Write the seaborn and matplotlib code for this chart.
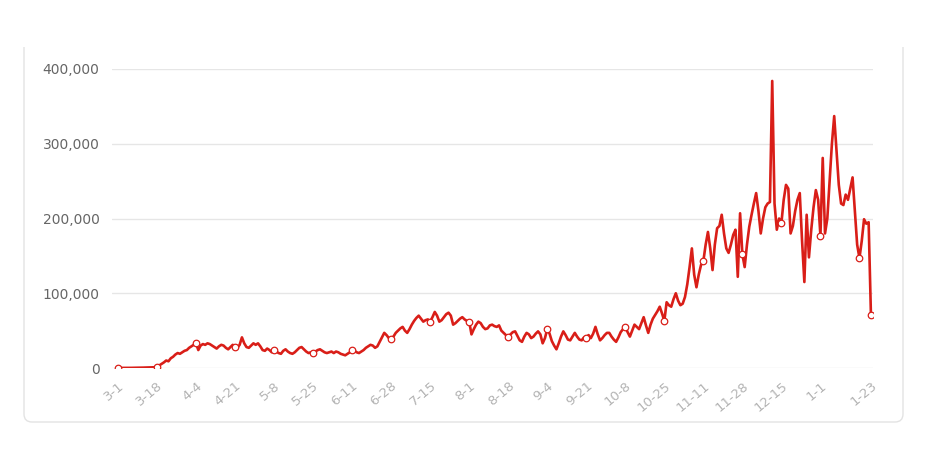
import numpy as np
import pandas as pd
import matplotlib
matplotlib.use("Agg")
import matplotlib.pyplot as plt
from matplotlib.path import Path
from matplotlib.patches import PathPatch
import seaborn as sns

# === Daily values (thousands) ===
march = [0.1, 0.1, 0.1, 0.1, 0.2, 0.2, 0.2, 0.3, 0.3, 0.4, 0.4, 0.5, 0.6, 0.7, 0.8, 0.9,
         1.0, 1.5, 3.5, 5.5, 7.5, 10, 9, 13, 15, 18, 20, 19, 21, 23, 24]
april = [27, 29, 31, 33, 24, 30, 32, 31, 33, 32, 30, 28, 26, 29, 31, 30, 27, 25, 28, 31,
         28, 27, 31, 41, 33, 28, 27, 30, 33, 31]
may = [33, 29, 24, 23, 26, 24, 21, 24, 22, 20, 19, 23, 25, 22, 20, 19, 21, 24, 27, 28,
       25, 22, 20, 21, 20, 22, 24, 25, 23, 21, 20]
june = [21, 22, 20, 22, 21, 19, 18, 17, 19, 21, 24, 23, 21, 20, 22, 24, 27, 29, 31, 30,
        27, 29, 35, 41, 47, 44, 40, 39, 42, 47]
july = [50, 53, 55, 50, 47, 52, 58, 63, 67, 70, 66, 62, 64, 65, 62, 68, 75, 70, 62, 64,
        68, 72, 74, 70, 58, 60, 63, 66, 68, 65, 63]
august = [62, 45, 52, 58, 62, 60, 55, 52, 53, 57, 58, 56, 55, 57, 50, 47, 44, 42, 45, 48,
          49, 43, 37, 35, 42, 47, 45, 40, 42, 46, 49]
september = [45, 33, 40, 52, 46, 36, 30, 25, 33, 42, 49, 44, 38, 37, 42, 47, 42, 38, 37, 41,
             40, 44, 40, 46, 55, 45, 37, 40, 44, 47]
october = [47, 42, 38, 35, 41, 48, 52, 55, 48, 42, 50, 58, 55, 52, 60, 68, 57, 47, 58, 66,
           71, 76, 82, 73, 63, 88, 84, 82, 92, 100, 90]
november = [84, 86, 95, 112, 135, 160, 125, 108, 125, 138, 143, 165, 182, 160, 131, 165,
            187, 190, 205, 180, 160, 154, 165, 178, 185, 122, 207, 152, 135, 165]
december = [189, 205, 220, 234, 210, 180, 200, 215, 220, 222, 384, 220, 185, 200, 194, 225,
            245, 240, 180, 190, 210, 225, 234, 170, 115, 205, 148, 185, 215, 238, 225]
january = [177, 281, 180, 200, 250, 300, 337, 290, 245, 220, 218, 232, 225, 240, 255, 210,
           165, 147, 170, 199, 193, 195, 71]

tick_labels = ['3-1', '3-18', '4-4', '4-21', '5-8', '5-25', '6-11', '6-28', '7-15', '8-1',
               '8-18', '9-4', '9-21', '10-8', '10-25', '11-11', '11-28', '12-15', '1-1', '1-23']
marker_dates = tick_labels[:-1] + ['1-18', '1-23']

# === Build the frame ===
values = np.array(march + april + may + june + july + august + september
                  + october + november + december + january) * 1000
dates = pd.date_range("2020-03-01", "2021-01-23", freq="D")
date_labels = [f"{d.month}-{d.day}" for d in dates]
df = pd.DataFrame({"day": np.arange(len(values)), "date": date_labels, "value": values})
marks = df[df["date"].isin(marker_dates)]

# === Plot ===
sns.set_style("white")
plt.rcParams['font.family'] = ['DejaVu Sans']

fig = plt.figure(figsize=(9.47, 4.62), dpi=100)
W, H = 947, 462
ax = fig.add_axes([112 / W, (H - 368) / H, (873 - 112) / W, (368 - 69) / H])

line_color = '#d91e18'
sns.lineplot(data=df, x="day", y="value", color=line_color, linewidth=1.9, ax=ax)
sns.scatterplot(data=marks, x="day", y="value", marker='o', s=22, facecolor='white',
                edgecolor=line_color, linewidth=0.9, zorder=5, ax=ax)

ax.set_xlim(-2.6, 328.9)
ax.set_ylim(0, 400000)
ax.set_yticks([0, 100000, 200000, 300000, 400000])
ax.set_yticklabels([f"{v:,}" for v in [0, 100000, 200000, 300000, 400000]])
ax.yaxis.grid(True, color='#e6e6e6', linewidth=1)
ax.set_axisbelow(True)

tick_pos = [date_labels.index(t) for t in tick_labels]
ax.set_xticks(tick_pos)
ax.set_xticklabels(tick_labels, rotation=40, ha='right', rotation_mode='anchor')

ax.tick_params(axis='y', length=0, pad=9, labelsize=10, labelcolor='#666666')
ax.tick_params(axis='x', length=4, width=1, color='#e0e0e0', pad=4,
               labelsize=9.5, labelcolor='#b3b3b3')
for s in ax.spines.values():
    s.set_visible(False)
ax.set_xlabel("")
ax.set_ylabel("")

# === Card border (left, bottom, right with rounded corners) ===
def fx(px):
    return px / W

def fy(py):
    return (H - py) / H

r = 8
verts = [(fx(24), fy(47)), (fx(24), fy(422 - r)), (fx(24), fy(422)), (fx(24 + r), fy(422)),
         (fx(903 - r), fy(422)), (fx(903), fy(422)), (fx(903), fy(422 - r)), (fx(903), fy(47))]
codes = [Path.MOVETO, Path.LINETO, Path.CURVE3, Path.CURVE3,
         Path.LINETO, Path.CURVE3, Path.CURVE3, Path.LINETO]
fig.patches.append(PathPatch(Path(verts, codes), transform=fig.transFigure,
                             fill=False, edgecolor='#e3e3e3', linewidth=1))

plt.savefig("out.png", dpi=100)
